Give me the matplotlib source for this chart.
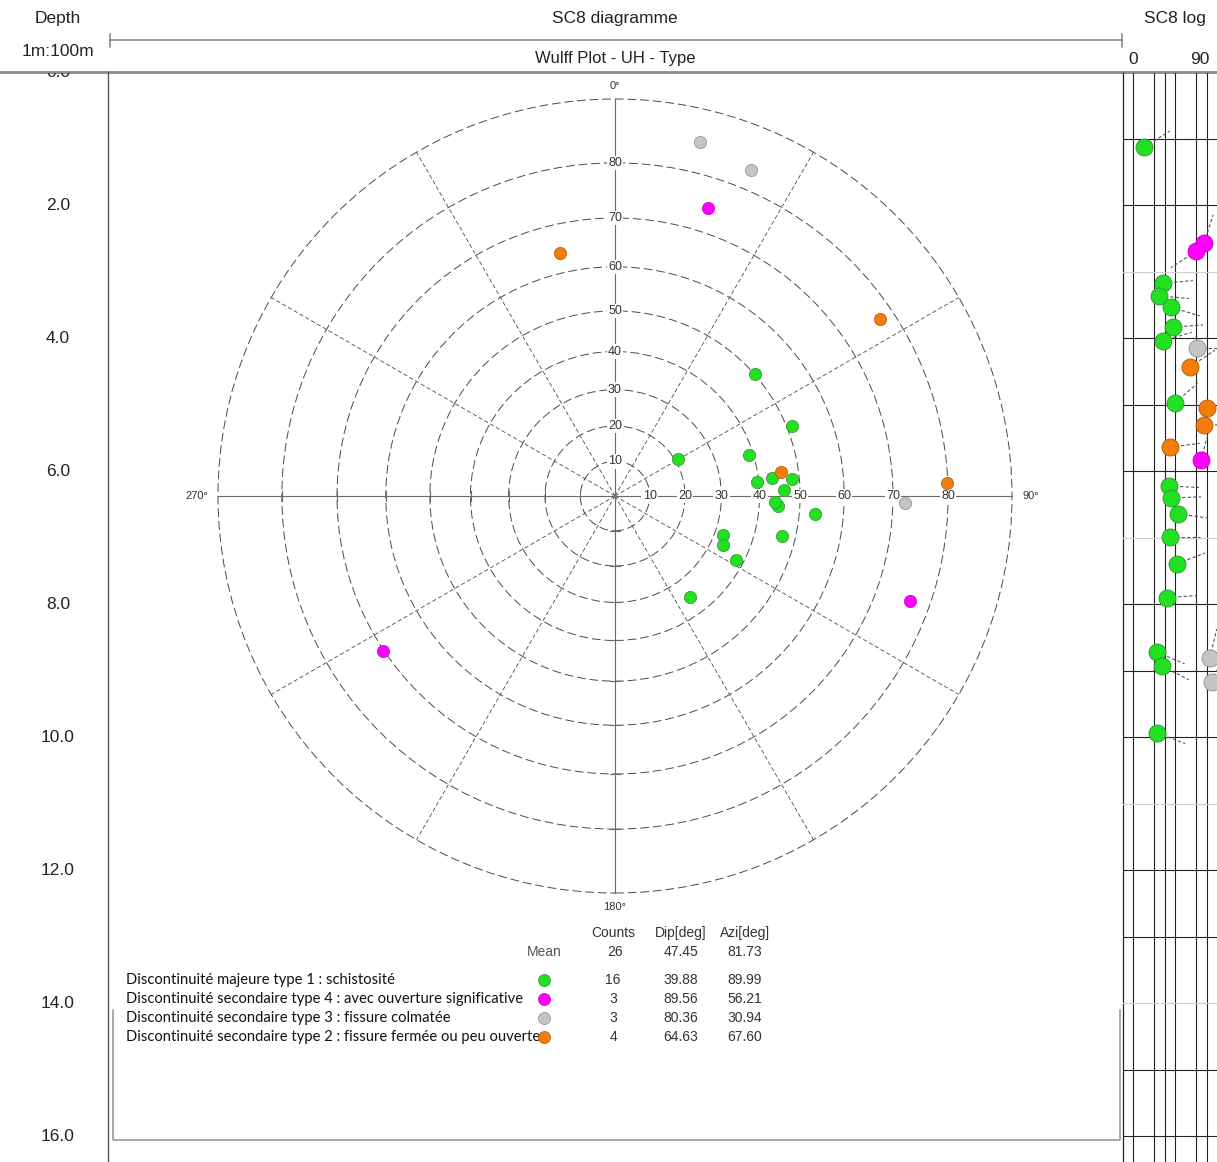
import numpy as np
import matplotlib
matplotlib.use('Agg')
import matplotlib.pyplot as plt
from matplotlib.patches import Circle

plt.rcParams['font.family'] = ['Liberation Sans', 'DejaVu Sans']

W, H = 1217, 1162
DPI = 100

# ---------------- data ----------------
# Stereonet (Wulff) poles: azimuth [deg], dip [deg]
green_azi = [59.6, 73.0, 68.4, 84.4, 83.5, 84.5, 88.0, 93.5, 95.1, 103.5, 109.9, 114.4, 117.9, 143.4, 48.9, 92.0]
green_dip = [20.9, 38.9, 51.2, 39.5, 43.4, 48.3, 46.1, 44.7, 53.7, 46.8, 32.3, 33.3, 38.0, 35.2, 50.1, 44.0]
magenta_azi = [17.9, 109.6, 236.3]
magenta_dip = [74.6, 76.5, 70.2]
grey_azi = [13.5, 22.6, 91.4]
grey_dip = [85.0, 83.3, 72.3]
orange_azi = [347.2, 56.3, 87.8, 81.8]
orange_dip = [64.2, 77.5, 79.9, 45.8]

# Log (tadpole) data: depth [m], dip [deg], azimuth [deg]
log_green_depth = [1.12, 3.17, 3.36, 3.53, 3.83, 4.04, 4.97, 6.22, 6.40, 6.64, 6.99, 7.39, 7.90, 8.72, 8.93, 9.94]
log_green_dip = [15.9, 42.6, 36.9, 54.0, 56.9, 42.6, 59.7, 51.1, 54.0, 64.0, 52.6, 62.6, 48.3, 34.0, 41.1, 34.0]
log_green_azi = [58, 85, 95, 107, 86, 73, 49, 93, 88, 98, 90, 69, 86, 113, 117, 110]
log_magenta_depth = [2.57, 2.69, 5.83]
log_magenta_dip = [101.0, 89.7, 96.9]
log_magenta_azi = [18, 237, 15]
log_grey_depth = [4.15, 8.81, 9.17]
log_grey_dip = [91.1, 109.7, 112.6]
log_grey_azi = [90, 13, 23]
log_orange_depth = [4.43, 5.05, 5.31, 5.64]
log_orange_dip = [81.1, 105.4, 101.0, 52.6]
log_orange_azi = [56, 88, 88, 82]

# Summary table
type_labels = ["Discontinuité majeure type 1 : schistosité",
               "Discontinuité secondaire type 4 : avec ouverture significative",
               "Discontinuité secondaire type 3 : fissure colmatée",
               "Discontinuité secondaire type 2 : fissure fermée ou peu ouverte"]
type_counts = [16, 3, 3, 4]
type_mean_dip = ["39.88", "89.56", "80.36", "64.63"]
type_mean_azi = ["89.99", "56.21", "30.94", "67.60"]
mean_counts, mean_dip, mean_azi = 26, "47.45", "81.73"

depth_ticks = [0, 2, 4, 6, 8, 10, 12, 14, 16]
ring_dips = [10, 20, 30, 40, 50, 60, 70, 80]
log_grid_x = [0, 30, 45, 60, 90, 105]
log_depth_lines = list(range(1, 17))
faint_depth_lines = [3, 7, 11, 14]

fills = ['#22e022', '#ff00ff', '#c4c4c4', '#f27d0c']
edges = ['#2f8f2f', '#c000c0', '#8c8c8c', '#b05800']

# ---------------- figure ----------------
fig = plt.figure(figsize=(W / DPI, H / DPI), dpi=DPI)
fig.patch.set_facecolor('white')

ov = fig.add_axes([0, 0, 1, 1])
ov.set_xlim(0, W)
ov.set_ylim(H, 0)
ov.axis('off')

# header
hfs = 12.5
ov.text(58, 18, "Depth", ha='center', va='center', fontsize=hfs, color='#222')
ov.text(615, 18, "SC8 diagramme", ha='center', va='center', fontsize=hfs, color='#222')
ov.text(1175, 18, "SC8 log", ha='center', va='center', fontsize=hfs, color='#222')
ov.text(58, 52, "1m:100m", ha='center', va='center', fontsize=hfs, color='#222')
ov.text(615, 59, "Wulff Plot - UH - Type", ha='center', va='center', fontsize=12, color='#222')
ov.text(1133, 59, "0", ha='center', va='center', fontsize=hfs, color='#222')
ov.text(1200, 59, "90", ha='center', va='center', fontsize=hfs, color='#222')
ov.plot([110, 1122], [40, 40], color='#808080', lw=1.1)
ov.plot([110, 110], [34, 47], color='#808080', lw=1.1)
ov.plot([1122, 1122], [34, 47], color='#808080', lw=1.1)
ov.plot([0, W], [72, 72], color='#8a8a8a', lw=2.0)
ov.plot([108, 108], [72, H], color='#555555', lw=1.0)
# bottom frame of diagram image
ov.plot([113, 113, 1120, 1120], [1010, 1140, 1140, 1010], color='#9a9a9a', lw=1.2)

# ---------------- depth axis ----------------
d_top_px = 72.5
px_per_m = 66.47
d_bottom = (H - d_top_px) / px_per_m
axd = fig.add_axes([0, 0, 108 / W, (H - d_top_px) / H])
axd.set_xlim(0, 108)
axd.set_ylim(d_bottom, 0)
axd.axis('off')
for d in depth_ticks:
    axd.text(58, d, f"{d:.1f}", ha='center', va='center', fontsize=12.5,
             color='#222', clip_on=True)

# ---------------- stereonet ----------------
cx, cy, R, half = 615, 496, 397, 430
axs = fig.add_axes([(cx - half) / W, (H - cy - half) / H, 2 * half / W, 2 * half / H])
lim = half / R
axs.set_xlim(-lim, lim)
axs.set_ylim(-lim, lim)
axs.axis('off')


def proj(az, dip):
    az = np.radians(np.asarray(az, float))
    r = np.tan(np.radians(np.asarray(dip, float)) / 2)
    return r * np.sin(az), r * np.cos(az)


ring_col = '#4a4a4a'
for d in ring_dips + [90]:
    r = np.tan(np.radians(d) / 2)
    axs.add_patch(Circle((0, 0), r, fill=False, ec=ring_col, lw=0.7,
                         ls=(0, (9, 4)), zorder=1))
for a in range(30, 360, 30):
    if a % 90 == 0:
        continue
    x1, y1 = proj(a, 90)
    axs.plot([0, x1], [0, y1], color=ring_col, lw=0.6, ls=(0, (5, 3)), zorder=1)
axs.plot([0, 0], [-1, 1], color='#6a6a6a', lw=0.8, zorder=1)
axs.plot([-1, 1], [0, 0], color='#6a6a6a', lw=0.8, zorder=1)
tk = 0.012
for d in ring_dips:
    r = np.tan(np.radians(d) / 2)
    axs.plot([-tk, tk], [-r, -r], color='#6a6a6a', lw=0.8, zorder=1)
    axs.plot([-r, -r], [-tk, tk], color='#6a6a6a', lw=0.8, zorder=1)
    axs.text(0, r, str(d), ha='center', va='center', fontsize=9, color='#333',
             bbox=dict(boxstyle='square,pad=0.1', fc='white', ec='none'), zorder=2)
    axs.text(r, 0, str(d), ha='center', va='center', fontsize=9, color='#333',
             bbox=dict(boxstyle='square,pad=0.1', fc='white', ec='none'), zorder=2)
axs.text(0, 1.033, "0°", ha='center', va='center', fontsize=8, color='#333')
axs.text(0, -1.035, "180°", ha='center', va='center', fontsize=8, color='#333')
axs.text(1.048, 0, "90°", ha='center', va='center', fontsize=8, color='#333')
axs.text(-1.053, 0, "270°", ha='center', va='center', fontsize=8, color='#333')

groups = [(green_azi, green_dip), (magenta_azi, magenta_dip),
          (grey_azi, grey_dip), (orange_azi, orange_dip)]
for (az, dp), fc, ec in zip(groups, fills, edges):
    x, y = proj(az, dp)
    axs.scatter(x, y, s=78, c=fc, edgecolors=ec, linewidths=0.5, zorder=3)

# ---------------- table ----------------
tfs = 10
tcol = '#333333'
ov.text(613, 933, "Counts", ha='center', va='center', fontsize=tfs, color=tcol)
ov.text(681, 933, "Dip[deg]", ha='center', va='center', fontsize=tfs, color=tcol)
ov.text(745, 933, "Azi[deg]", ha='center', va='center', fontsize=tfs, color=tcol)
ov.text(544, 952, "Mean", ha='center', va='center', fontsize=tfs, color='#555')
ov.text(615, 952, str(mean_counts), ha='center', va='center', fontsize=tfs, color=tcol)
ov.text(681, 952, mean_dip, ha='center', va='center', fontsize=tfs, color=tcol)
ov.text(745, 952, mean_azi, ha='center', va='center', fontsize=tfs, color=tcol)
row_y = [980, 999, 1018, 1037]
for i, yy in enumerate(row_y):
    ov.text(126, yy, type_labels[i], ha='left', va='center', fontsize=10.6,
            family=['Lato', 'DejaVu Sans'], color='#111')
    ov.scatter([544], [yy], s=75, c=fills[i], edgecolors=edges[i], linewidths=0.5, zorder=3)
    ov.text(613, yy, str(type_counts[i]), ha='center', va='center', fontsize=tfs, color=tcol)
    ov.text(681, yy, type_mean_dip[i], ha='center', va='center', fontsize=tfs, color=tcol)
    ov.text(745, yy, type_mean_azi[i], ha='center', va='center', fontsize=tfs, color=tcol)

# ---------------- log strip ----------------
lx0 = 1122.7
px_per_deg = 0.7
x_left = -15
x_right = x_left + (W - lx0) / px_per_deg
axl = fig.add_axes([lx0 / W, 0, (W - lx0) / W, (H - d_top_px) / H])
axl.set_xlim(x_left, x_right)
axl.set_ylim(d_bottom, 0)
axl.axis('off')
axl.axvline(x_left, color='#222', lw=0.9, clip_on=False)
for gx in log_grid_x:
    axl.axvline(gx, color='#222', lw=0.8)
for d in log_depth_lines:
    c = '#cfcfcf' if d in faint_depth_lines else '#222'
    axl.axhline(d, color=c, lw=0.8)

log_groups = [(log_green_dip, log_green_depth, log_green_azi),
              (log_magenta_dip, log_magenta_depth, log_magenta_azi),
              (log_grey_dip, log_grey_depth, log_grey_azi),
              (log_orange_dip, log_orange_depth, log_orange_azi)]
L = 30
inv = axl.transData.inverted()
for (dps, dep, azs), fc, ec in zip(log_groups, fills, edges):
    for x, d, a in zip(dps, dep, azs):
        p0 = axl.transData.transform((x, d))
        p1 = p0 + L * np.array([np.sin(np.radians(a)), np.cos(np.radians(a))])
        q1 = inv.transform(p1)
        axl.plot([x, q1[0]], [d, q1[1]], color='#555', lw=0.8, ls=(0, (3, 2)), zorder=2)
    axl.scatter(dps, dep, s=150, c=fc, edgecolors=ec, linewidths=0.6, zorder=3)

fig.savefig('out.png', dpi=DPI, facecolor='white')
